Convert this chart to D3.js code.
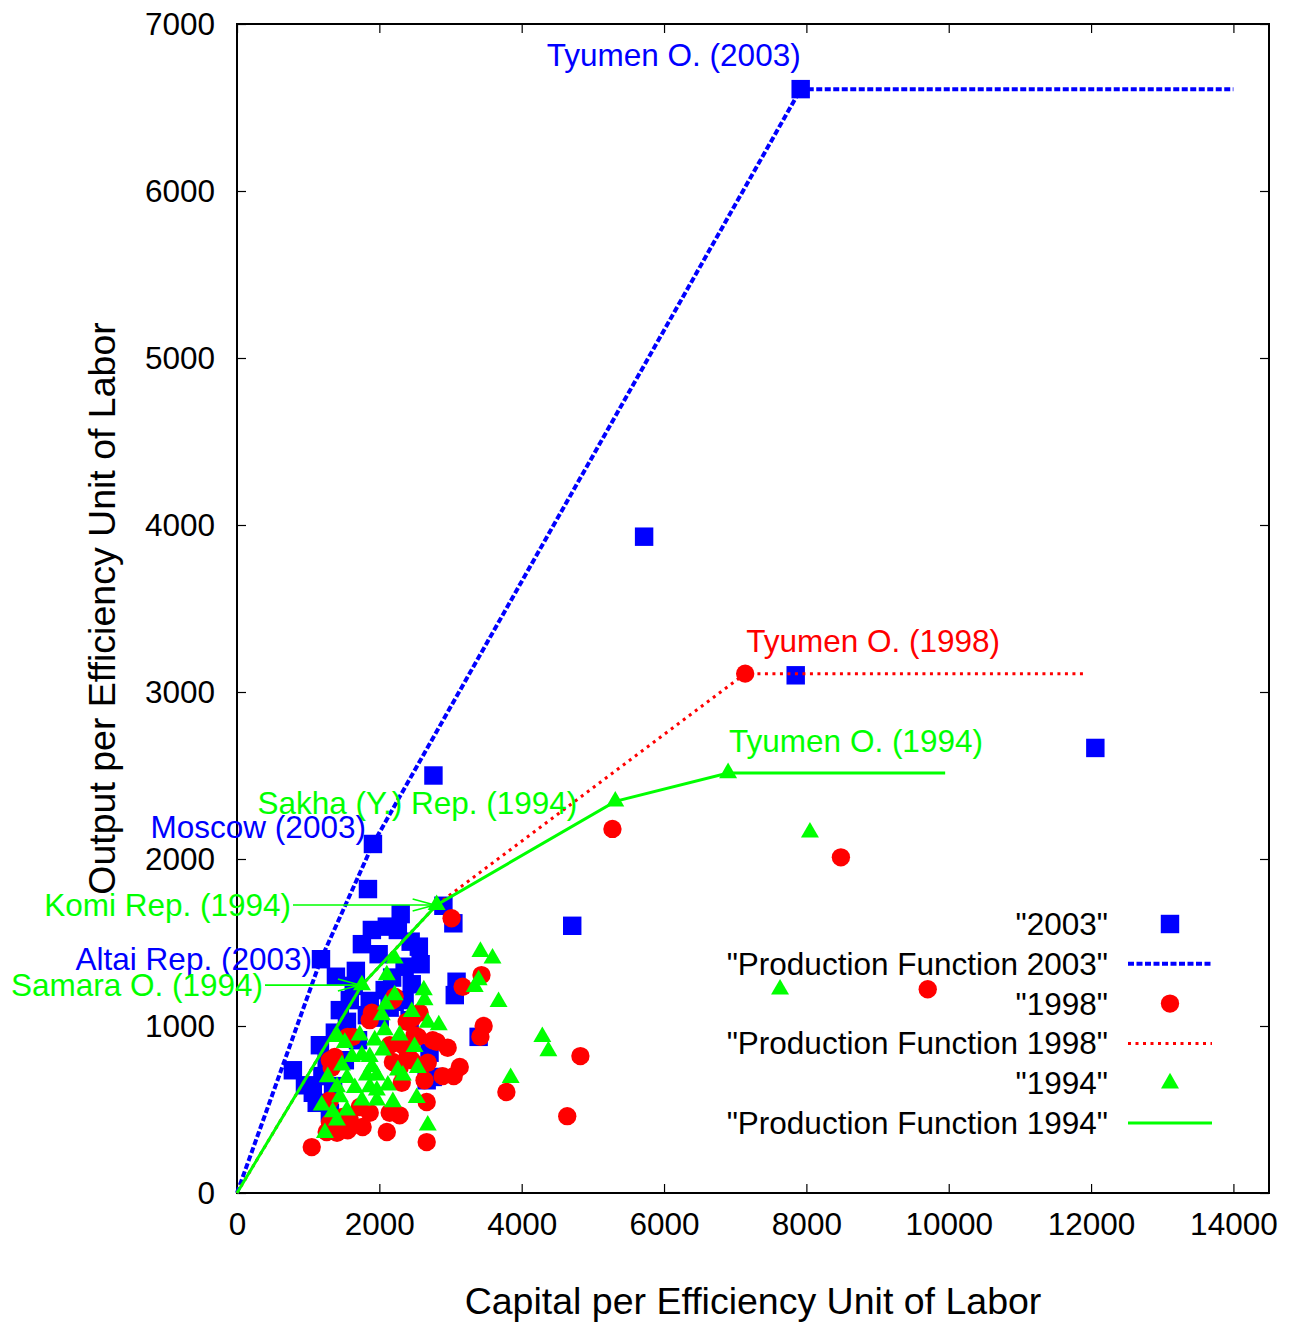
<!DOCTYPE html>
<html>
<head>
<meta charset="utf-8">
<script src="https://cdn.jsdelivr.net/npm/d3@7"></script>
<style>
  html, body { margin: 0; padding: 0; background: #fff; }
  svg { display: block; font-family: "Liberation Sans", Arial, Helvetica, sans-serif; }
</style>
</head>
<body>
<svg id="chart" width="1293" height="1326"></svg>
<script>
// Capital vs. output per efficiency unit of labor, Russian regions
const xTicks = [0, 2000, 4000, 6000, 8000, 10000, 12000, 14000];
const yTicks = [0, 1000, 2000, 3000, 4000, 5000, 6000, 7000];

const pts2003 = [
  [7920, 6610], [5720, 3930], [7850, 3100], [12060, 2665], [2760, 2500],
  [1910, 2090], [1840, 1820], [4710, 1600], [2900, 1720], [3040, 1615],
  [1180, 1400], [785, 735], [3085, 1265], [3060, 1185], [3395, 935],
  [2300, 1670], [2260, 1575], [1895, 1575], [2105, 1595], [1755, 1490],
  [1990, 1430], [2440, 1505], [2555, 1475], [1670, 1330], [1390, 1295],
  [2455, 1250], [2580, 1370], [2355, 1355], [1825, 1065], [2145, 1110],
  [1545, 1025], [1375, 960], [1165, 885], [1260, 795], [1065, 600],
  [1120, 540], [1305, 480], [2705, 840], [2750, 695], [2355, 1155],
  [1585, 1155], [1865, 1150], [2075, 1215], [1445, 1095], [1700, 915],
  [1515, 795], [955, 645], [2425, 1035], [2665, 675], [2005, 1050],
  [2215, 1145], [1200, 700], [1350, 640], [1640, 1240], [2180, 1290]
];

const pts1998 = [
  [7140, 3110], [5275, 2180], [8485, 2010], [9705, 1220], [3015, 1645],
  [3435, 1305], [3170, 1235], [3465, 1000], [3420, 935], [4825, 820],
  [3785, 605], [4640, 460], [2960, 870], [3130, 755], [3045, 700],
  [2890, 700], [2665, 545], [2665, 305], [2750, 915], [2680, 780],
  [2635, 675], [2565, 1080], [2385, 1025], [2495, 945], [2805, 905],
  [2400, 825], [2315, 660], [2285, 465], [1050, 275], [2105, 365],
  [1405, 360], [1555, 375], [1260, 365], [1895, 1080], [2470, 1050],
  [2190, 1155], [1625, 935], [2145, 885], [2330, 885], [1375, 815],
  [1330, 750], [2190, 785], [2285, 750], [1305, 555], [1725, 515],
  [1865, 480], [2145, 480], [1485, 455], [1585, 435], [1305, 420],
  [1765, 395], [1865, 1035], [1555, 935], [2215, 1175], [2455, 795],
  [2540, 935], [1305, 795]
];

const pts1994 = [
  [6900, 2515], [5315, 2345], [2805, 1725], [1755, 1245], [8050, 2160],
  [7630, 1220], [3420, 1445], [3590, 1405], [3395, 1275], [3340, 1235],
  [3675, 1145], [4290, 935], [4375, 850], [3845, 690], [2680, 405],
  [2215, 1405], [2105, 1305], [2215, 1185], [2625, 1215], [2635, 1155],
  [2455, 1085], [2680, 1020], [2835, 1005], [2495, 875], [2540, 750],
  [2525, 570], [2035, 1065], [2075, 975], [2285, 945], [1415, 935],
  [1725, 945], [1935, 915], [1515, 900], [2050, 855], [1755, 825],
  [1615, 815], [1865, 815], [1475, 765], [1895, 755], [2260, 735],
  [1275, 695], [1545, 690], [1825, 705], [1965, 705], [2330, 705],
  [1405, 635], [1655, 630], [1865, 635], [2120, 645], [1965, 615],
  [1445, 575], [1755, 555], [1190, 525], [1965, 555], [2190, 545],
  [1345, 485], [1545, 495], [1405, 435], [1235, 360], [2090, 1130]
];

// Frontier (production function) vertices
const pf2003 = [[0, 0], [1180, 1400], [1910, 2090], [7920, 6610], [14000, 6610]];
const pf1998 = [[0, 0], [1755, 1245], [2805, 1725], [7140, 3110], [11900, 3110]];
const pf1994 = [[0, 0], [1755, 1245], [2805, 1725], [5315, 2345], [6900, 2515], [9950, 2515]];

const legendLabels = ['"2003"', '"Production Function 2003"', '"1998"',
                      '"Production Function 1998"', '"1994"', '"Production Function 1994"'];

const BLUE = "#0000ff", RED = "#ff0000", GREEN = "#00ff00";
const FONT = 31.5, TITLE_FONT = 37.5;

const svg = d3.select("#chart");
const x = d3.scaleLinear().domain([0, 14500]).range([237, 1269]);
const y = d3.scaleLinear().domain([0, 7000]).range([1193, 24]);

// Axes with inward ticks on all four sides
const gx = svg.append("g").attr("transform", `translate(0,${y(0)})`)
  .call(d3.axisBottom(x).tickValues(xTicks).tickSize(-9).tickSizeOuter(0).tickPadding(20).tickFormat(d3.format("d")));
const gy = svg.append("g").attr("transform", `translate(${x(0)},0)`)
  .call(d3.axisLeft(y).tickValues(yTicks).tickSize(-9).tickSizeOuter(0).tickPadding(22).tickFormat(d3.format("d")));
const gt = svg.append("g").attr("transform", `translate(0,${y(7000)})`)
  .call(d3.axisTop(x).tickValues(xTicks).tickSize(-9).tickSizeOuter(0).tickFormat(""));
const gr = svg.append("g").attr("transform", `translate(${x(14500)},0)`)
  .call(d3.axisRight(y).tickValues(yTicks).tickSize(-9).tickSizeOuter(0).tickFormat(""));
[gx, gy, gt, gr].forEach(g => {
  g.select(".domain").remove();
  g.selectAll(".tick line").attr("stroke", "#000").attr("stroke-width", 1.2);
  g.selectAll(".tick text").attr("fill", "#000").attr("font-size", FONT)
    .attr("font-family", '"Liberation Sans", Arial, sans-serif');
});

// Frame
svg.append("rect")
  .attr("x", x(0)).attr("y", y(7000))
  .attr("width", x(14500) - x(0)).attr("height", y(0) - y(7000))
  .attr("fill", "none").attr("stroke", "#000").attr("stroke-width", 2);

// Axis titles
svg.append("text").attr("x", (x(0) + x(14500)) / 2).attr("y", 1314)
  .attr("text-anchor", "middle").attr("font-size", TITLE_FONT).text("Capital per Efficiency Unit of Labor");
svg.append("text").attr("transform", `translate(115,${(y(0) + y(7000)) / 2}) rotate(-90)`)
  .attr("text-anchor", "middle").attr("font-size", TITLE_FONT).text("Output per Efficiency Unit of Labor");

const line = d3.line().x(d => x(d[0])).y(d => y(d[1]));
const sq = d3.symbol().type(d3.symbolSquare).size(340);
const circ = d3.symbol().type(d3.symbolCircle).size(265);
const tri = d3.symbol().type(d3.symbolTriangle).size(140);

const plot = svg.append("g");

function drawPoints(data, sym, color) {
  plot.append("g").selectAll("path").data(data).join("path")
    .attr("transform", d => `translate(${x(d[0])},${y(d[1])})`)
    .attr("d", sym).attr("fill", color);
}
function drawLine(data, color, width, dash) {
  plot.append("path").datum(data).attr("d", line)
    .attr("fill", "none").attr("stroke", color).attr("stroke-width", width)
    .attr("stroke-dasharray", dash);
}

// Drawing order: 2003, PF 2003, 1998, PF 1998, 1994, PF 1994
drawPoints(pts2003, sq, BLUE);
drawLine(pf2003, BLUE, 4, "6,2.5");
drawPoints(pts1998, circ, RED);
drawLine(pf1998, RED, 3, "3,4.5");
drawPoints(pts1994, tri, GREEN);
drawLine(pf1994, GREEN, 3, null);

// Point annotations
function label(txt, px, py, anchor, color) {
  svg.append("text").attr("x", px).attr("y", py).attr("text-anchor", anchor)
    .attr("fill", color).attr("font-size", FONT).text(txt);
}
const t03 = pts2003[0], t98 = pts1998[0], t94 = pts1994[0];
const sakha = pts1994[1], komi = pts1994[2], samara = pts1994[3];
const moscow = pts2003[5], altai = pts2003[10];
label("Tyumen O. (2003)", x(t03[0]), y(t03[1]) - 23, "end", BLUE);
label("Tyumen O. (1998)", x(t98[0]) + 1, y(t98[1]) - 22, "start", RED);
label("Tyumen O. (1994)", x(t94[0]) + 1, y(t94[1]) - 21, "start", GREEN);
label("Sakha (Y.) Rep. (1994)", x(sakha[0]) - 38, y(sakha[1]) + 13, "end", GREEN);
label("Moscow (2003)", x(moscow[0]) - 7, y(moscow[1]) - 6, "end", BLUE);
label("Altai Rep. (2003)", x(altai[0]) - 9, y(altai[1]) + 11, "end", BLUE);
label("Komi Rep. (1994)", 291, y(komi[1]) + 11, "end", GREEN);
label("Samara O. (1994)", 263, y(samara[1]) + 11, "end", GREEN);

// Arrows from labels to their points
function arrow(x0, pt, color) {
  const x1 = x(pt[0]) - 2, yy = y(pt[1]);
  const g = svg.append("g").attr("stroke", color).attr("stroke-width", 1.6).attr("fill", "none");
  g.append("line").attr("x1", x0).attr("y1", yy).attr("x2", x1).attr("y2", yy);
  g.append("path").attr("d", `M${x1 - 22},${yy - 6}L${x1},${yy}L${x1 - 22},${yy + 6}`);
}
arrow(293, komi, GREEN);
arrow(265, samara, GREEN);

// Legend
const legend = svg.append("g");
const rowY = i => 924 + i * 39.8;
legendLabels.forEach((t, i) => {
  legend.append("text").attr("x", 1108).attr("y", rowY(i) + 11)
    .attr("text-anchor", "end").attr("font-size", FONT).text(t);
});
legend.append("path").attr("transform", `translate(1170,${rowY(0)})`).attr("d", sq).attr("fill", BLUE);
legend.append("line").attr("x1", 1128).attr("x2", 1212).attr("y1", rowY(1)).attr("y2", rowY(1))
  .attr("stroke", BLUE).attr("stroke-width", 4).attr("stroke-dasharray", "6,2.5");
legend.append("path").attr("transform", `translate(1170,${rowY(2)})`).attr("d", circ).attr("fill", RED);
legend.append("line").attr("x1", 1128).attr("x2", 1212).attr("y1", rowY(3)).attr("y2", rowY(3))
  .attr("stroke", RED).attr("stroke-width", 3).attr("stroke-dasharray", "3,4.5");
legend.append("path").attr("transform", `translate(1170,${rowY(4)})`).attr("d", tri).attr("fill", GREEN);
legend.append("line").attr("x1", 1128).attr("x2", 1212).attr("y1", rowY(5)).attr("y2", rowY(5))
  .attr("stroke", GREEN).attr("stroke-width", 3);
</script>
</body>
</html>
